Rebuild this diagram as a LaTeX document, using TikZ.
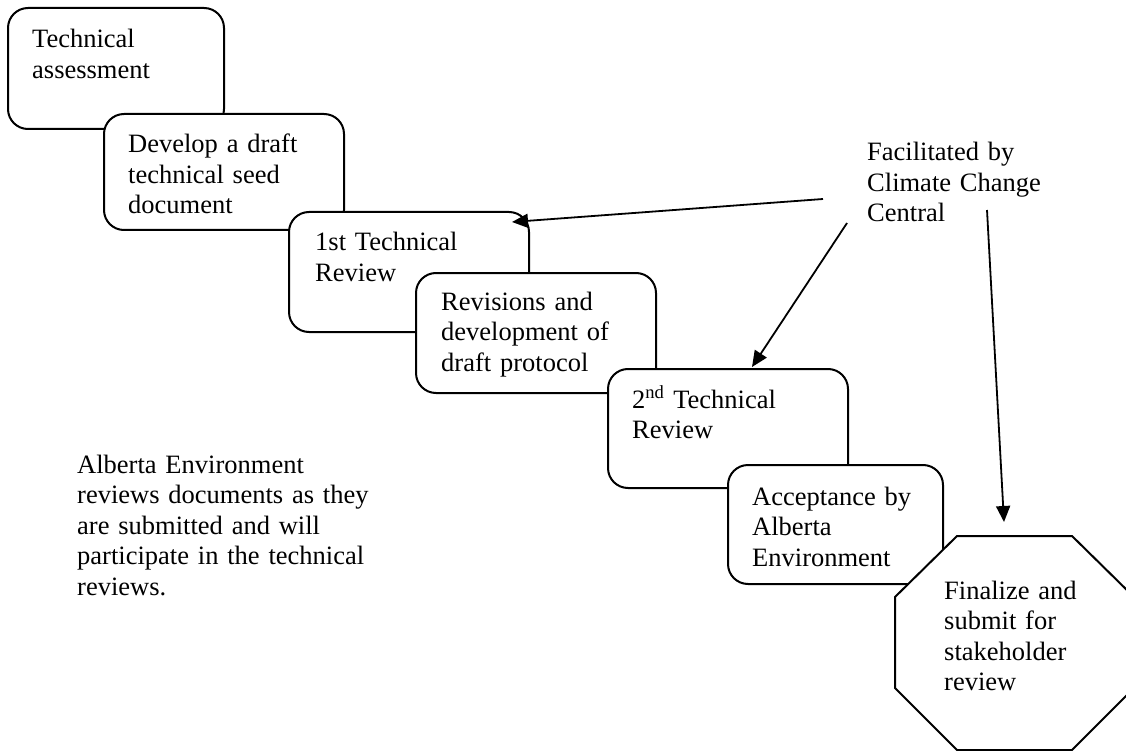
\documentclass[tikz,border=0pt]{standalone}
\usepackage{fontspec}
\setmainfont{Liberation Serif}
\usetikzlibrary{arrows.meta}
\begin{document}
\begin{tikzpicture}[x=1pt,y=-1pt,
  stepbox/.style={draw=black, line width=2pt, fill=white, rounded corners=20pt, anchor=north west, inner sep=0pt},
  octa/.style={draw=black, line width=2pt, fill=white, line join=miter},
  txt/.style={anchor=base west, inner sep=0pt, text width=#1, align=left, font=\fontsize{26.5}{30.5}\selectfont},
  conn/.style={line width=1.8pt, -{Triangle[length=16pt,width=14pt]}}
]
\useasboundingbox (0,0) rectangle (1126,751);

\node[stepbox, minimum width=216pt, minimum height=121pt] (b1) at (7,7) {};
\node[txt=250pt] (t1) at (32,48) {Technical\\assessment};

\node[stepbox, minimum width=240pt, minimum height=116pt] (b2) at (103,113) {};
\node[txt=250pt] (t2) at (128,153) {Develop a draft\\technical seed\\document};

\node[stepbox, minimum width=240pt, minimum height=120pt] (b3) at (288,211) {};
\node[txt=250pt] (t3) at (315,251) {1st Technical\\Review};

\node[stepbox, minimum width=240pt, minimum height=120pt] (b4) at (415,272) {};
\node[txt=250pt] (t4) at (441,310) {Revisions and\\development of\\draft protocol};

\node[stepbox, minimum width=240pt, minimum height=119pt] (b5) at (607,368) {};
\node[txt=250pt] (t5) at (632,408) {2\textsuperscript{nd} Technical\\Review};

\node[stepbox, minimum width=215pt, minimum height=119pt] (b6) at (727,464) {};
\node[txt=250pt] (t6) at (752,505) {Acceptance by\\Alberta\\Environment};

\draw[octa] (957,536) -- (1072,536) -- (1134,597) -- (1134,688) -- (1072,750) -- (957,750) -- (895,688) -- (895,597) -- cycle;
\node[txt=200pt] (t7) at (944,599) {Finalize and\\submit for\\stakeholder\\review};

\node[txt=250pt] (fac) at (867,161) {Facilitated by\\Climate Change\\Central};

\node[txt=330pt] (ae) at (77,473) {Alberta Environment\\reviews documents as they\\are submitted and will\\participate in the technical\\reviews.};

\coordinate (s1) at (823,199);
\coordinate (e1) at (512,222);
\coordinate (s2) at (847,223);
\coordinate (e2) at (752,367);
\coordinate (s3) at (987,210);
\coordinate (e3) at (1004,522);
\draw[conn] (s1) -- (e1);
\draw[conn] (s2) -- (e2);
\draw[conn] (s3) -- (e3);
\end{tikzpicture}
\end{document}
